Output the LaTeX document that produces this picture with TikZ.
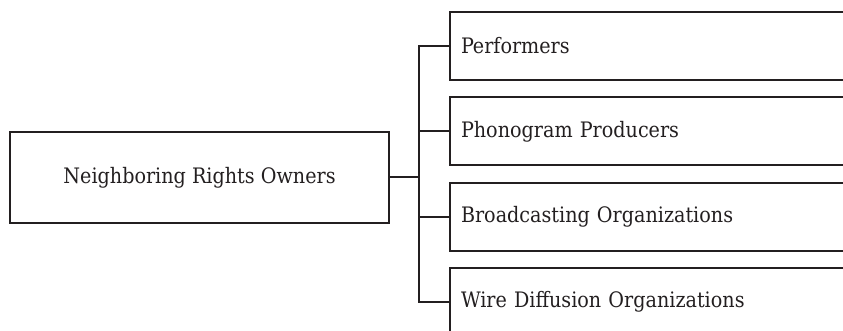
\documentclass[tikz,border=0pt]{standalone}
\usepackage{fontspec}
\setmainfont{DejaVu Serif Condensed}
\definecolor{ink}{HTML}{231F20}
\begin{document}
\begin{tikzpicture}[x=1pt,y=1pt,
  box/.style={draw=ink, line width=2pt, text=ink, font=\fontsize{21.3}{24}\selectfont},
  leaf/.style={box, anchor=west, minimum width=402pt, minimum height=68pt, inner xsep=11pt, text width=380pt, align=left},
  conn/.style={draw=ink, line width=2pt}]
\clip (0,0) rectangle (843,-331);
\node[box, minimum width=379pt, minimum height=91pt] (L) at (199.5,-177.5) {Neighboring Rights Owners};
\node[leaf] (R1) at (449,-46) {Performers};
\node[leaf] (R2) at (449,-131.5) {Phonogram Producers};
\node[leaf] (R3) at (449,-217) {Broadcasting Organizations};
\node[leaf] (R4) at (449,-302) {Wire Diffusion Organizations};
\coordinate (bus) at (418.5,-177.5);
\draw[conn] (L.east) -- (bus);
\draw[conn] (bus) |- (R1.west);
\draw[conn] (bus) |- (R2.west);
\draw[conn] (bus) |- (R3.west);
\draw[conn] (bus) |- (R4.west);
\end{tikzpicture}
\end{document}
